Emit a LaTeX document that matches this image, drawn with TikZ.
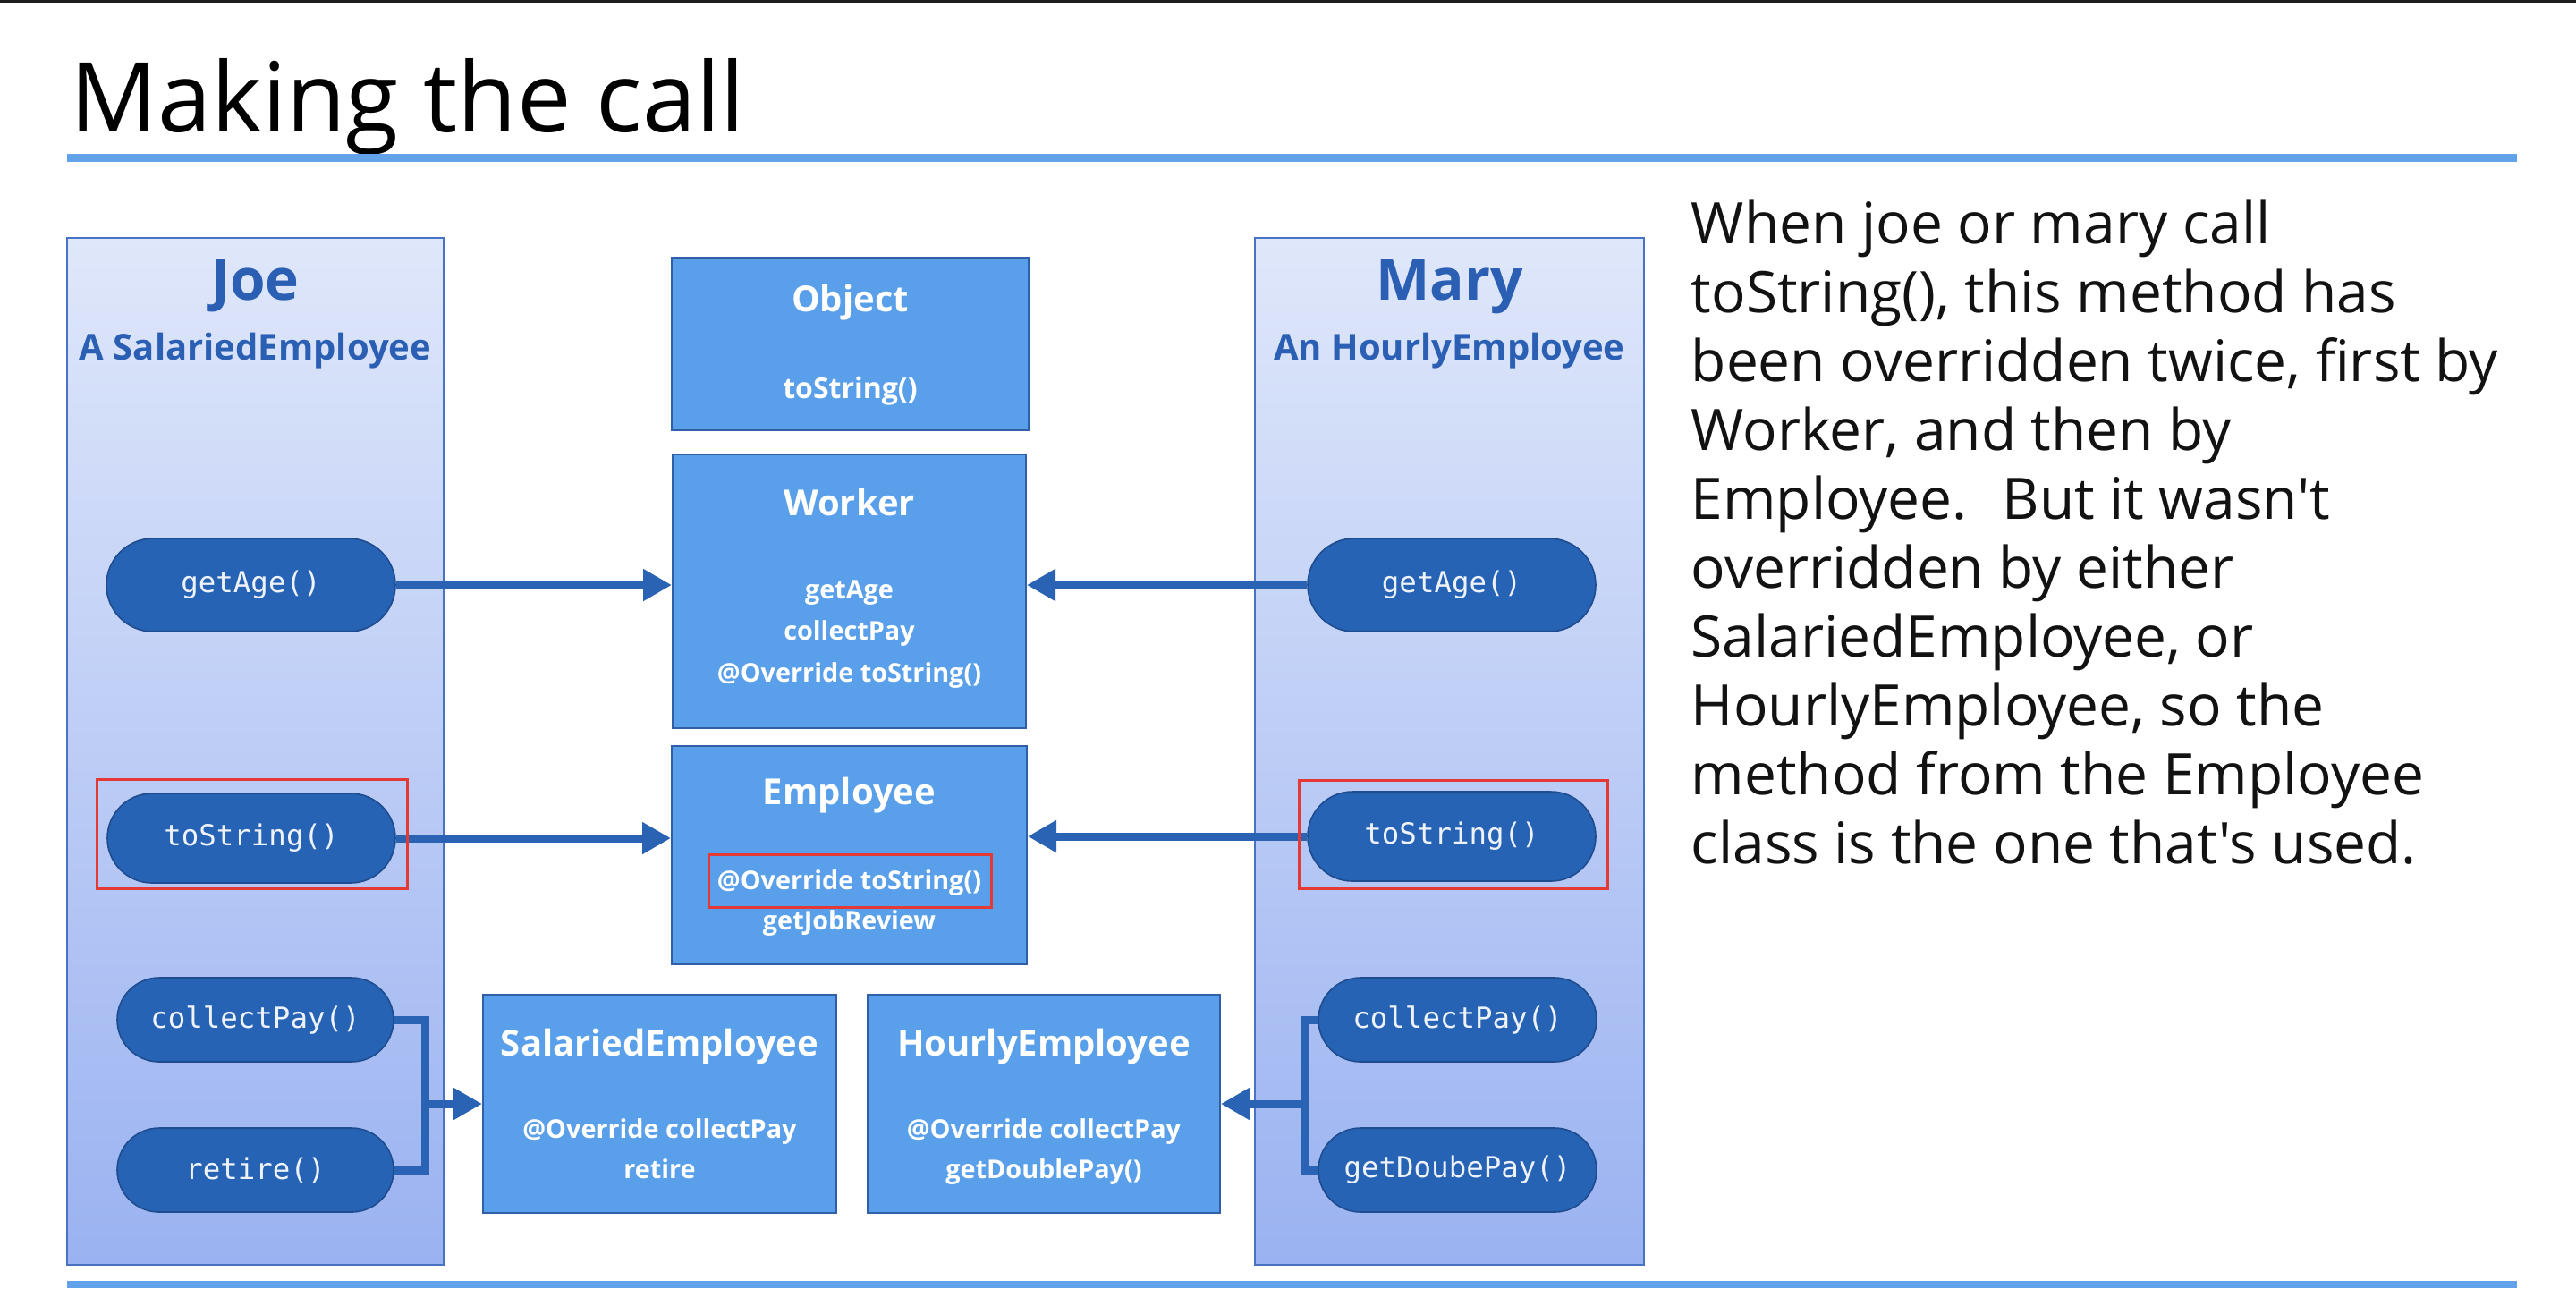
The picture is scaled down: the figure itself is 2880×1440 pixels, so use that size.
\documentclass[tikz,border=0pt]{standalone}
\usepackage{fontspec}
\setmainfont{Open Sans}[Ligatures=TeXOff]
\newfontfamily\pillfont{DejaVu Sans Mono}
\usetikzlibrary{arrows.meta,shapes.misc}
\definecolor{persontop}{HTML}{DFE7FA}
\definecolor{personbot}{HTML}{9AB2F1}
\definecolor{personline}{HTML}{4A72C2}
\definecolor{persontext}{HTML}{2A5FB4}
\definecolor{boxfill}{HTML}{5A9FE9}
\definecolor{boxline}{HTML}{2F5FA6}
\definecolor{pillfill}{HTML}{2763B4}
\definecolor{pillline}{HTML}{1E4C8E}
\definecolor{pilltext}{HTML}{EEF2FA}
\definecolor{connblue}{HTML}{2A63B3}
\definecolor{hlred}{HTML}{E53935}
\definecolor{rulecol}{HTML}{62A2EA}
\definecolor{topbar}{HTML}{1E1E1E}
\tikzset{
  classbox/.style={draw=boxline, line width=0.5pt, fill=boxfill, inner sep=0pt},
  personbox/.style={draw=personline, line width=0.6pt, top color=persontop, bottom color=personbot, inner sep=0pt},
  pill/.style={rounded rectangle, draw=pillline, line width=0.4pt, fill=pillfill, text=pilltext, font=\pillfont\fontsize{8.1}{9}\selectfont, inner sep=0pt},
  redbox/.style={draw=hlred, line width=0.75pt, inner sep=0pt},
  ctitle/.style={text=white, font=\bfseries\fontsize{10}{12}\selectfont, anchor=base, inner sep=0pt},
  cmeth/.style={text=white, font=\bfseries\fontsize{7.2}{8}\selectfont, anchor=base, inner sep=0pt},
  ptitle/.style={text=persontext, font=\bfseries\fontsize{16}{18}\selectfont, anchor=base, inner sep=0pt},
  psub/.style={text=persontext, font=\bfseries\fontsize{10}{12}\selectfont, anchor=base, inner sep=0pt},
  bodytext/.style={text=black!93, font=\fontsize{16}{18}\selectfont, anchor=base west, inner sep=0pt},
  conn/.style={draw=connblue, line width=2.25pt, -{Triangle[length=8pt,width=8.5pt]}},
  bracketline/.style={draw=connblue, line width=2.25pt},
}
\begin{document}
\begin{tikzpicture}[x=0.25pt,y=-0.25pt]
\useasboundingbox (0,0) rectangle (2880,1440);
\fill[white] (0,0) rectangle (2880,1440);
\fill[topbar] (0,0) rectangle (2880,3);
% title
\node[anchor=base west, inner sep=0pt, font=\fontsize{27}{30}\selectfont] (title) at (78,147) {Making the call};
\fill[rulecol] (75,172) rectangle (2814,181);
\fill[rulecol] (75,1432) rectangle (2814,1440);

% person boxes
\node[personbox, minimum width=105.25pt, minimum height=287pt] (joe) at (285.5,840) {};
\node[personbox, minimum width=108.75pt, minimum height=287pt] (mary) at (1620.5,840) {};
\node[ptitle] (joeName) at (285.5,335) {Joe};
\node[psub] (joeType) at (285.5,402) {A SalariedEmployee};
\node[ptitle] (maryName) at (1620.5,335) {Mary};
\node[psub] (maryType) at (1620.5,402) {An HourlyEmployee};

% pills
\node[pill, minimum width=80.75pt, minimum height=26pt] (joeAge) at (280.5,654) {getAge()};
\node[pill, minimum width=80.5pt, minimum height=25pt] (joeStr) at (281,937) {toString()};
\node[pill, minimum width=77.25pt, minimum height=23.5pt] (joeCP) at (285.5,1140) {collectPay()};
\node[pill, minimum width=77.25pt, minimum height=23.5pt] (joeRet) at (285.5,1308) {retire()};
\node[pill, minimum width=80.5pt, minimum height=26pt] (maryAge) at (1623,654) {getAge()};
\node[pill, minimum width=80.5pt, minimum height=25pt] (maryStr) at (1623,935) {toString()};
\node[pill, minimum width=77.75pt, minimum height=23.5pt] (maryCP) at (1629.5,1140) {collectPay()};
\node[pill, minimum width=77.75pt, minimum height=23.5pt] (maryDP) at (1629.5,1308) {getDoubePay()};

% class boxes
\node[classbox, minimum width=99.75pt, minimum height=48.25pt] (object) at (950.5,384.5) {};
\node[classbox, minimum width=98.75pt, minimum height=76.5pt] (worker) at (949.5,661) {};
\node[classbox, minimum width=99.25pt, minimum height=61pt] (employee) at (949.5,956) {};
\node[classbox, minimum width=98.75pt, minimum height=61pt] (salaried) at (737.5,1234) {};
\node[classbox, minimum width=98.5pt, minimum height=61pt] (hourly) at (1167,1234) {};

\node[ctitle] (objT) at (950.5,348) {Object};
\node[cmeth, font=\bfseries\fontsize{8}{9}\selectfont] (objM) at (950.5,445) {toString()};
\node[ctitle] (wrkT) at (949.5,576) {Worker};
\node[cmeth] (wrkM1) at (949.5,669) {getAge};
\node[cmeth] (wrkM2) at (949.5,715) {collectPay};
\node[cmeth] (wrkM3) at (949.5,762) {@Override toString()};
\node[ctitle] (empT) at (949.5,899) {Employee};
\node[cmeth] (empM1) at (949.5,994) {@Override toString()};
\node[cmeth] (empM2) at (949.5,1039) {getJobReview};
\node[ctitle] (salT) at (737.5,1180) {SalariedEmployee};
\node[cmeth] (salM1) at (737.5,1272) {@Override collectPay};
\node[cmeth] (salM2) at (737.5,1317) {retire};
\node[ctitle] (hrT) at (1167,1180) {HourlyEmployee};
\node[cmeth] (hrM1) at (1167,1272) {@Override collectPay};
\node[cmeth] (hrM2) at (1167,1317) {getDoublePay()};

% connectors
\draw[conn] (joeAge.east) -- (joeAge.east -| worker.west);
\draw[conn] (maryAge.west) -- (maryAge.west -| worker.east);
\draw[conn] (joeStr.east) -- (joeStr.east -| employee.west);
\draw[conn] (maryStr.west) -- (maryStr.west -| employee.east);
\coordinate (jx) at (475,1234);
\coordinate (mx) at (1459,1234);
\draw[bracketline] (joeCP.east) -| (jx) |- (joeRet.east);
\draw[conn] (jx) -- (salaried.west);
\draw[bracketline] (maryCP.west) -| (mx) |- (maryDP.west);
\draw[conn] (mx) -- (hourly.east);

% highlights
\node[redbox, minimum width=86.75pt, minimum height=30.5pt] (joeRed) at (281.5,932) {};
\node[redbox, minimum width=79pt, minimum height=14.75pt] (empRed) at (950,984.5) {};
\node[redbox, minimum width=86.25pt, minimum height=30.25pt] (maryRed) at (1624.5,932.5) {};

% body text
\foreach \t [count=\i] in {{When joe or mary call},{toString(), this method has},{been overridden twice, first by},{Worker, and then by},{Employee.~ But it wasn't},{overridden by either},{SalariedEmployee, or},{HourlyEmployee, so the},{method from the Employee},{class is the one that's used.}}
  \node[bodytext] (body\i) at (1890,{272+(\i-1)*77}) {\t};
\end{tikzpicture}
\end{document}
